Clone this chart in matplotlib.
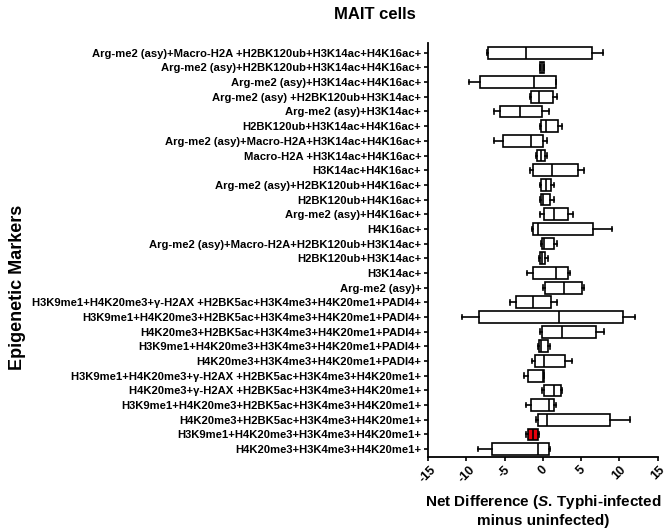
import matplotlib
matplotlib.use("Agg")
import matplotlib.pyplot as plt

plt.rcParams['font.family'] = ['Liberation Sans', 'DejaVu Sans']
plt.rcParams['mathtext.fontset'] = 'custom'
plt.rcParams['mathtext.it'] = 'Liberation Sans:italic:bold'
plt.rcParams['mathtext.rm'] = 'Liberation Sans:bold'

# categories top to bottom
labels = [
    "Arg-me2 (asy)+Macro-H2A +H2BK120ub+H3K14ac+H4K16ac+",
    "Arg-me2 (asy)+H2BK120ub+H3K14ac+H4K16ac+",
    "Arg-me2 (asy)+H3K14ac+H4K16ac+",
    "Arg-me2 (asy) +H2BK120ub+H3K14ac+",
    "Arg-me2 (asy)+H3K14ac+",
    "H2BK120ub+H3K14ac+H4K16ac+",
    "Arg-me2 (asy)+Macro-H2A+H3K14ac+H4K16ac+",
    "Macro-H2A +H3K14ac+H4K16ac+",
    "H3K14ac+H4K16ac+",
    "Arg-me2 (asy)+H2BK120ub+H4K16ac+",
    "H2BK120ub+H4K16ac+",
    "Arg-me2 (asy)+H4K16ac+",
    "H4K16ac+",
    "Arg-me2 (asy)+Macro-H2A+H2BK120ub+H3K14ac+",
    "H2BK120ub+H3K14ac+",
    "H3K14ac+",
    "Arg-me2 (asy)+",
    "H3K9me1+H4K20me3+γ-H2AX +H2BK5ac+H3K4me3+H4K20me1+PADI4+",
    "H3K9me1+H4K20me3+H2BK5ac+H3K4me3+H4K20me1+PADI4+",
    "H4K20me3+H2BK5ac+H3K4me3+H4K20me1+PADI4+",
    "H3K9me1+H4K20me3+H3K4me3+H4K20me1+PADI4+",
    "H4K20me3+H3K4me3+H4K20me1+PADI4+",
    "H3K9me1+H4K20me3+γ-H2AX +H2BK5ac+H3K4me3+H4K20me1+",
    "H4K20me3+γ-H2AX +H2BK5ac+H3K4me3+H4K20me1+",
    "H3K9me1+H4K20me3+H2BK5ac+H3K4me3+H4K20me1+",
    "H4K20me3+H2BK5ac+H3K4me3+H4K20me1+",
    "H3K9me1+H4K20me3+H3K4me3+H4K20me1+",
    "H4K20me3+H3K4me3+H4K20me1+",
]

whislo = [-7.3, -0.4, -9.7, -1.73, -6.43, -0.39, -6.43, -0.9, -1.66, -0.39,
          -0.39, -0.35, -1.47, -0.22, -0.48, -2.05, 0.04, -4.26, -10.6, -0.35,
          -0.61, -1.4, -2.48, -0.09, -2.26, -0.91, -2.18, -8.44]
q1 = [-7.13, -0.35, -8.2, -1.53, -5.57, -0.22, -5.22, -0.83, -1.34, -0.22,
      -0.22, 0.09, -1.26, -0.13, -0.39, -1.3, 0.3, -3.56, -8.34, -0.13,
      -0.48, -1.08, -1.92, 0.13, -1.53, -0.69, -2.0, -6.69]
med = [-2.2, -0.1, -1.13, -0.56, -3.04, 0.35, -1.56, -0.26, 1.17, 0.43,
       0.04, 1.43, -0.61, 0.13, -0.17, 1.73, 2.7, -1.34, 2.09, 2.52,
       -0.26, 0.13, 0.05, 1.4, 0.74, 0.56, -1.3, -0.61]
q3 = [6.48, 0.09, 1.65, 1.26, -0.17, 2.0, -0.04, 0.3, 4.65, 1.04,
      0.95, 3.26, 6.61, 1.4, 0.3, 3.26, 5.05, 1.08, 10.43, 7.0,
      0.61, 2.91, 0.09, 2.35, 1.4, 8.77, -0.61, 0.82]
whishi = [7.9, 0.1, 1.65, 1.79, 0.74, 2.52, 0.48, 0.48, 5.39, 1.4,
          1.4, 3.91, 9.09, 1.83, 0.65, 3.56, 5.35, 1.83, 12.09, 7.95,
          0.95, 3.74, 0.09, 2.44, 1.66, 11.38, -0.48, 0.95]
highlight = [26]  # index (top to bottom) of red-filled box

xticks = [-15, -10, -5, 0, 5, 10, 15]

n = len(labels)
stats = []
positions = []
for i in range(n):
    stats.append(dict(med=med[i], q1=q1[i], q3=q3[i], whislo=whislo[i],
                      whishi=whishi[i], fliers=[], label=labels[i]))
    positions.append(n - 1 - i)

fig = plt.figure(figsize=(6.69, 5.32), dpi=100)
ax = fig.add_axes([0.640, 0.1415, 0.343, 0.7775])

lw = 1.2
bp = ax.bxp(stats, positions=positions, orientation='horizontal', widths=0.8,
            patch_artist=True, showfliers=False, capwidths=0.32,
            boxprops=dict(facecolor='white', edgecolor='black', linewidth=lw),
            medianprops=dict(color='black', linewidth=lw),
            whiskerprops=dict(color='black', linewidth=lw),
            capprops=dict(color='black', linewidth=lw))
for i, patch in enumerate(bp['boxes']):
    if i in highlight:
        patch.set_facecolor('#e8000b')

ax.set_ylim(-0.52, n - 1 + 0.66)
ax.set_xlim(-15, 15)
ax.set_xticks(xticks)
ax.set_xticklabels([str(t) for t in xticks], rotation=45, fontsize=9,
                   fontweight='bold')
ax.set_yticks(positions)
ax.set_yticklabels(labels, fontsize=8.1, fontweight='bold')
ax.tick_params(axis='both', length=3, width=1.2, pad=2)
for s in ['top', 'right']:
    ax.spines[s].set_visible(False)
for s in ['left', 'bottom']:
    ax.spines[s].set_linewidth(1.3)

ax.set_xlabel("Net Difference ($\\mathit{S}$. Typhi-infected\nminus uninfected)",
              fontsize=11, fontweight='bold', labelpad=6)
fig.text(0.026, 0.46, "Epigenetic Markers", rotation=90, fontsize=13,
         fontweight='bold', ha='center', va='center')
fig.text(0.56, 0.972, "MAIT cells", fontsize=12, fontweight='bold',
         ha='center', va='center')

fig.savefig("out.png", dpi=100)
